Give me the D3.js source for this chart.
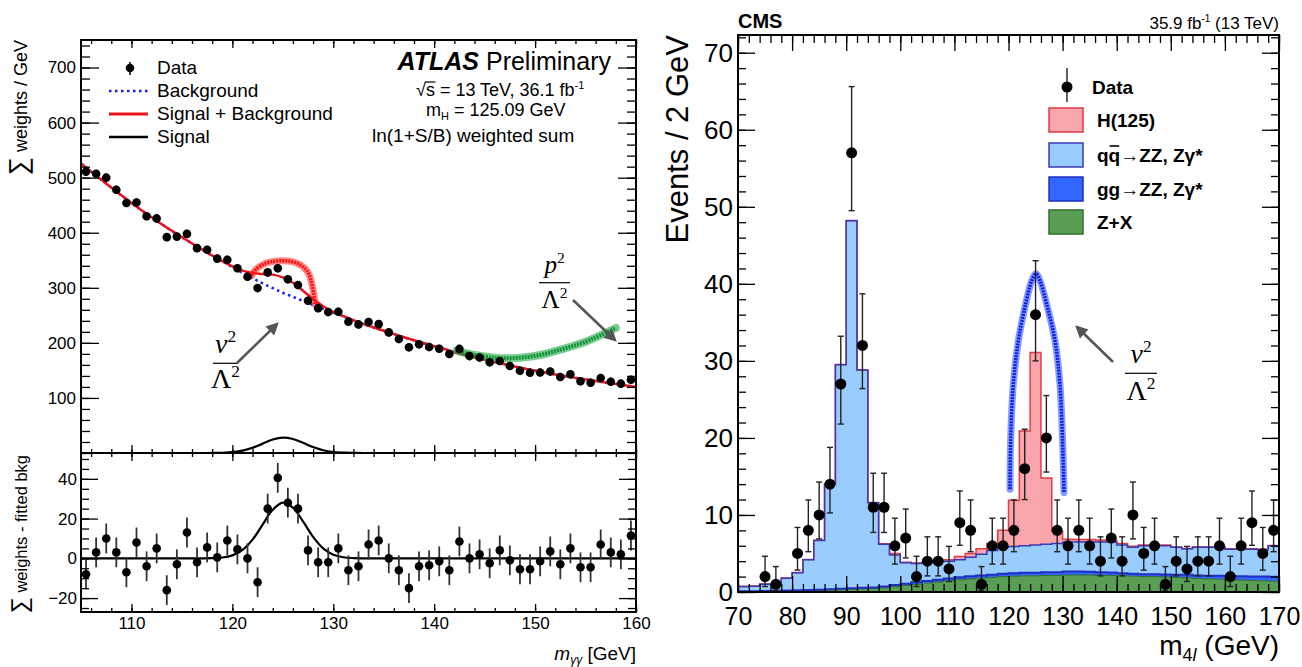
<!DOCTYPE html>
<html>
<head>
<meta charset="utf-8">
<script src="https://cdn.jsdelivr.net/npm/d3@7"></script>
<style>
body { margin: 0; background: #fff; }
svg text { font-family: "Liberation Sans", Arial, Helvetica, sans-serif; }
svg text.math { font-family: "Liberation Serif", "DejaVu Serif", serif; }
</style>
</head>
<body>
<svg id="chart" width="1302" height="667"></svg>
<script>
// ---------- ATLAS (left) ----------
const atlasBins = [105.5,106.5,107.5,108.5,109.5,110.5,111.5,112.5,113.5,114.5,115.5,116.5,117.5,118.5,119.5,120.5,121.5,122.5,123.5,124.5,125.5,126.5,127.5,128.5,129.5,130.5,131.5,132.5,133.5,134.5,135.5,136.5,137.5,138.5,139.5,140.5,141.5,142.5,143.5,144.5,145.5,146.5,147.5,148.5,149.5,150.5,151.5,152.5,153.5,154.5,155.5,156.5,157.5,158.5,159.5];
const atlasData = [511,507,500,478,454,455,430,426,392,393,398,372,369,353,351,335.5,320,299.5,328,335.5,315.5,305,276.5,263,256,256.5,238.5,233.5,238,234,219,207,192,197.4,192.5,189.3,179.8,189,176,173.5,164.7,167,158,149.5,145.8,146.2,147.9,138,142.9,130.4,127.5,136.2,129.5,125.9,132.9];
const atlasResid = [-8,3,10,3,-7,8,-4,5,-16,-3,13,-2,5.5,0.5,9,4.5,0,-12,25,40.5,28,25,4,-2,-2,5,-6,-4,7,9,0,-6,-15,-4,-3.5,-1.5,-6,8.5,0,2,-2.5,4,-1,-5.5,-5.5,-1.5,3.5,-3,5,-4.5,-4.5,7,3,2,11.5];
const atlasErr = 7.5;

const atlasCurveMass = [105,106,107,108,109,110,111,112,113,114,115,116,117,118,119,120,121,122,123,124,125,126,127,128,129,130,131,132,133,134,135,136,137,138,139,140,141,142,143,144,145,146,147,148,149,150,151,152,153,154,155,156,157,158,159,160];
const atlasBkg = [526,511,496.5,482,468,454,441,428,415.5,403.5,392,380.5,369.5,358.5,348,337.5,327,317.5,308,299.5,291,283.7,276.2,268.8,261.5,254.7,248,241,234,228,222,216,210.3,204.7,199.2,193.9,188.8,183,178.3,173.8,169.3,165,161,157,153.2,149.5,146,142.6,139.4,136.4,133.5,130.6,127.8,125.2,122.6,120];
const atlasSigMass = [115,116,117,118,119,120,121,122,123,124,125,126,127,128,129,130,131,132,133,134,135];
const atlasSig = [0,0,0.02,0.09,0.41,1.5,4.2,9.4,17,24.4,28,25.5,18.6,10.8,5.0,1.8,0.54,0.13,0.02,0,0];

const atlasV2Arc = [[121.9,322],[122.2,331],[122.9,341],[123.8,347],[124.8,349],[125.8,348],[126.6,343],[127.2,335],[127.6,324],[127.9,305],[128.1,285],[128.2,270]];
const atlasP2Band = [[142.2,186],[144,178],[146,173],[147.5,172],[149,174],[150.5,178],[152,185],[153.5,193],[155,202],[156.5,214],[158,227]];

const atlasXTicks = [110,120,130,140,150,160];
const atlasYTicks = [100,200,300,400,500,600,700];
const atlasResTicks = [-20,0,20,40];

// ---------- CMS (right) ----------
const cmsBins = [71,73,75,77,79,81,83,85,87,89,91,93,95,97,99,101,103,105,107,109,111,113,115,117,119,121,123,125,127,129,131,133,135,137,139,141,143,145,147,149,151,153,155,157,159,161,163,165,167,169];
const cmsData = [0,0,2,1,0,5,8,10,14,27,57,32,11,11,6,7,2,4,4,3,9,8,1,6,6,8,16,36,20,8,6,8,6,4,7,4,10,5,6,1,4,3,4,4,6,2,6,9,5,8];
const cmsZX = [0.05,0.05,0.08,0.1,0.12,0.15,0.18,0.2,0.25,0.3,0.35,0.4,0.45,0.55,0.7,0.85,1.0,1.15,1.3,1.45,1.6,1.7,1.8,1.9,2.0,2.05,2.1,2.1,2.15,2.15,2.2,2.2,2.2,2.15,2.15,2.1,2.05,2.0,2.0,1.95,1.9,1.85,1.75,1.7,1.65,1.6,1.55,1.5,1.45,1.4];
const cmsGG = [0.05,0.05,0.05,0.05,0.06,0.07,0.08,0.1,0.1,0.12,0.13,0.15,0.15,0.17,0.2,0.22,0.25,0.27,0.3,0.3,0.32,0.33,0.35,0.35,0.38,0.4,0.4,0.4,0.4,0.42,0.45,0.45,0.42,0.4,0.38,0.35,0.33,0.32,0.3,0.32,0.35,0.38,0.4,0.42,0.45,0.48,0.5,0.52,0.55,0.57];
const cmsQQ = [0.6,0.65,0.87,0.85,1.62,2.28,3.94,6.4,13.65,29.08,47.72,28.25,11.0,5.48,3.9,2.73,2.45,2.38,2.35,2.25,2.28,2.47,2.75,3.15,3.42,3.45,3.5,3.6,3.65,3.73,3.85,3.85,3.88,3.95,3.97,3.65,3.42,3.68,3.7,3.73,3.55,3.37,3.65,3.68,3.7,3.47,3.5,3.53,3.5,4.03];
const cmsH = [0.03,0.03,0.03,0.03,0.03,0.03,0.03,0.03,0.03,0.03,0.03,0.03,0.03,0.05,0.2,0.05,0.05,0.05,0.1,0.2,0.4,0.5,0.7,0.9,2.2,6.0,14.9,25.0,8.6,1.6,0.35,0.3,0.3,0.25,0.2,0.2,0.15,0.1,0.1,0.1,0.05,0.05,0.05,0.05,0.05,0.05,0.05,0.05,0.05,0.05];
// 68% Poisson intervals for the observed counts
const poissonLo = {1:0.17,2:0.71,3:1.37,4:2.09,5:2.84,6:3.62,7:4.42,8:5.23,9:6.06,10:6.89,11:7.73,14:10.26,16:12.0,20:15.57,27:21.8,32:26.4,36:30.0,57:49.5};
const poissonHi = {1:3.30,2:4.64,3:5.92,4:7.16,5:8.38,6:9.58,7:10.77,8:11.95,9:13.11,10:14.27,11:15.42,14:18.77,16:21.13,20:25.5,27:33.2,32:38.7,36:43.0,57:65.6};

const cmsV2Band = [[120.28,13.35],[120.4,19.6],[120.89,27.0],[121.82,32.6],[123.05,37.0],[124.29,40.4],[125.08,41.3],[125.82,40.4],[127.18,37.0],[128.6,32.6],[129.5,27.0],[130.0,19.6],[130.26,12.9]];

const cmsXTicks = [70,80,90,100,110,120,130,140,150,160,170];
const cmsYTicks = [0,10,20,30,40,50,60,70];

const cmsKeys = ['zx', 'gg', 'qq', 'h'];
const cmsColors = {
    h:  {fill: '#f8a5ab', stroke: '#e23a48', w: 1.5},
    qq: {fill: '#99ccff', stroke: '#3a3ab8', w: 1.5},
    gg: {fill: '#3366ff', stroke: '#1f2fc0', w: 2},
    zx: {fill: '#5a9e55', stroke: '#2f6e2c', w: 1}
};

const svg = d3.select('#chart');
svg.append('rect').attr('width', 1302).attr('height', 667).attr('fill', '#fff');

svg.append('defs').append('marker')
    .attr('id', 'arrow')
    .attr('viewBox', '0 0 10 10')
    .attr('refX', 8).attr('refY', 5)
    .attr('markerWidth', 6).attr('markerHeight', 5)
    .attr('orient', 'auto')
    .append('path')
    .attr('d', 'M0,0L10,5L0,10z')
    .attr('fill', '#555');

// helpers
function drawTicks(g, axis, scale, values, len, at) {
    g.append('g').attr('transform', at)
        .call(axis(scale).tickValues(values).tickSizeInner(-len).tickSizeOuter(0).tickFormat(''))
        .call(s => s.select('.domain').remove())
        .selectAll('line').attr('stroke', '#000').attr('stroke-width', 1.3);
}

function drawLabels(g, axis, scale, values, at, size, pad) {
    const a = g.append('g').attr('transform', at)
        .call(axis(scale).tickValues(values).tickSize(0).tickPadding(pad));
    a.select('.domain').remove();
    a.attr('font-size', size).attr('font-family', null);
    a.selectAll('text').attr('fill', '#000');
}

function fraction(g, cx, barY, width, letter, size, numOff, denOff) {
    const n = g.append('text').attr('class', 'math')
        .attr('x', cx).attr('y', barY - numOff)
        .attr('text-anchor', 'middle').attr('font-size', size);
    n.append('tspan').attr('font-style', 'italic').text(letter);
    n.append('tspan').attr('font-size', size * 0.62).attr('dy', -size * 0.4).text('2');
    g.append('line')
        .attr('x1', cx - width / 2).attr('x2', cx + width / 2)
        .attr('y1', barY).attr('y2', barY)
        .attr('stroke', '#000').attr('stroke-width', 1.2);
    const d = g.append('text').attr('class', 'math')
        .attr('x', cx).attr('y', barY + denOff)
        .attr('text-anchor', 'middle').attr('font-size', size);
    d.append('tspan').text('Λ');
    d.append('tspan').attr('font-size', size * 0.62).attr('dy', -size * 0.4).text('2');
}

function arrow(g, x1, y1, x2, y2) {
    g.append('line')
        .attr('x1', x1).attr('y1', y1).attr('x2', x2).attr('y2', y2)
        .attr('stroke', '#555').attr('stroke-width', 2.5)
        .attr('marker-end', 'url(#arrow)');
}

// ================= ATLAS panel =================
const atlasX = d3.scaleLinear().domain([105, 160]).range([81, 636]);
const atlasY = d3.scaleLinear().domain([0, 750]).range([453, 40]);
const atlasR = d3.scaleLinear().domain([-27, 53]).range([612, 453]);

const left = svg.append('g');
const sigMap = new Map(atlasSigMass.map((m, i) => [m, atlasSig[i]]));
const sigFull = atlasCurveMass.map(m => sigMap.get(m) || 0);

// background (blue dotted)
left.append('path')
    .datum(atlasCurveMass.map((m, i) => [m, atlasBkg[i]]))
    .attr('fill', 'none')
    .attr('stroke', '#1a1aff')
    .attr('stroke-width', 2.5)
    .attr('stroke-dasharray', '2.5 3.5')
    .attr('d', d3.line().x(d => atlasX(d[0])).y(d => atlasY(d[1])).curve(d3.curveCatmullRom));

// signal + background (red)
left.append('path')
    .datum(atlasCurveMass.map((m, i) => [m, atlasBkg[i] + sigFull[i]]))
    .attr('fill', 'none')
    .attr('stroke', '#e8141c')
    .attr('stroke-width', 2.5)
    .attr('d', d3.line().x(d => atlasX(d[0])).y(d => atlasY(d[1])).curve(d3.curveCatmullRom));

// signal (black) in the upper pad
left.append('path')
    .datum(atlasCurveMass.map((m, i) => [m, sigFull[i]]))
    .attr('fill', 'none')
    .attr('stroke', '#000')
    .attr('stroke-width', 2.2)
    .attr('d', d3.line().x(d => atlasX(d[0])).y(d => atlasY(d[1])).curve(d3.curveCatmullRom));

// v^2 arc and p^2 band
const bandLine = d3.line().x(d => atlasX(d[0])).y(d => atlasY(d[1])).curve(d3.curveCatmullRom);
left.append('path').datum(atlasV2Arc)
    .attr('fill', 'none').attr('stroke', '#ff2a2a').attr('stroke-width', 7)
    .attr('stroke-opacity', 0.55).attr('stroke-linecap', 'round').attr('d', bandLine);
left.append('path').datum(atlasV2Arc)
    .attr('fill', 'none').attr('stroke', '#ff1010').attr('stroke-width', 3.5)
    .attr('stroke-dasharray', '2 1').attr('d', bandLine);
left.append('path').datum(atlasP2Band)
    .attr('fill', 'none').attr('stroke', '#22a844').attr('stroke-width', 8)
    .attr('stroke-opacity', 0.6).attr('stroke-linecap', 'round').attr('d', bandLine);
left.append('path').datum(atlasP2Band)
    .attr('fill', 'none').attr('stroke', '#129236').attr('stroke-width', 4)
    .attr('stroke-dasharray', '2 1').attr('d', bandLine);

// upper data
left.append('g').selectAll('line')
    .data(atlasBins).enter().append('line')
    .attr('x1', d => atlasX(d)).attr('x2', d => atlasX(d))
    .attr('y1', (d, i) => atlasY(atlasData[i] - atlasErr))
    .attr('y2', (d, i) => atlasY(atlasData[i] + atlasErr))
    .attr('stroke', '#000').attr('stroke-width', 1.5);
left.append('g').selectAll('circle')
    .data(atlasBins).enter().append('circle')
    .attr('cx', d => atlasX(d))
    .attr('cy', (d, i) => atlasY(atlasData[i]))
    .attr('r', 4.3).attr('fill', '#000');

// lower pad: signal fit and residuals
left.append('path')
    .datum(atlasCurveMass.map((m, i) => [m, sigFull[i]]))
    .attr('fill', 'none')
    .attr('stroke', '#000')
    .attr('stroke-width', 2.2)
    .attr('d', d3.line().x(d => atlasX(d[0])).y(d => atlasR(d[1])).curve(d3.curveCatmullRom));
left.append('g').selectAll('line')
    .data(atlasBins).enter().append('line')
    .attr('x1', d => atlasX(d)).attr('x2', d => atlasX(d))
    .attr('y1', (d, i) => atlasR(atlasResid[i] - atlasErr))
    .attr('y2', (d, i) => atlasR(atlasResid[i] + atlasErr))
    .attr('stroke', '#333').attr('stroke-width', 1.8);
left.append('g').selectAll('circle')
    .data(atlasBins).enter().append('circle')
    .attr('cx', d => atlasX(d))
    .attr('cy', (d, i) => atlasR(atlasResid[i]))
    .attr('r', 4.3).attr('fill', '#000');

// ticks
const atlasMinorX = d3.range(106, 161, 2);
drawTicks(left, d3.axisTop, atlasX, atlasMinorX, 4, 'translate(0,40)');
drawTicks(left, d3.axisTop, atlasX, atlasXTicks, 8, 'translate(0,40)');
drawTicks(left, d3.axisBottom, atlasX, atlasMinorX, 4, 'translate(0,453)');
drawTicks(left, d3.axisBottom, atlasX, atlasXTicks, 8, 'translate(0,453)');
drawTicks(left, d3.axisTop, atlasX, atlasMinorX, 4, 'translate(0,453)');
drawTicks(left, d3.axisTop, atlasX, atlasXTicks, 8, 'translate(0,453)');
drawTicks(left, d3.axisBottom, atlasX, atlasMinorX, 4, 'translate(0,612)');
drawTicks(left, d3.axisBottom, atlasX, atlasXTicks, 8, 'translate(0,612)');
const atlasMinorY = d3.range(0, 750, 20);
drawTicks(left, d3.axisLeft, atlasY, atlasMinorY, 9, 'translate(81,0)');
drawTicks(left, d3.axisLeft, atlasY, atlasYTicks, 18, 'translate(81,0)');
drawTicks(left, d3.axisRight, atlasY, atlasMinorY, 9, 'translate(636,0)');
drawTicks(left, d3.axisRight, atlasY, atlasYTicks, 18, 'translate(636,0)');
const atlasMinorR = d3.range(-25, 53, 5);
drawTicks(left, d3.axisLeft, atlasR, atlasMinorR, 8, 'translate(81,0)');
drawTicks(left, d3.axisLeft, atlasR, atlasResTicks, 17, 'translate(81,0)');
drawTicks(left, d3.axisRight, atlasR, atlasMinorR, 8, 'translate(636,0)');
drawTicks(left, d3.axisRight, atlasR, atlasResTicks, 17, 'translate(636,0)');

drawLabels(left, d3.axisLeft, atlasY, atlasYTicks, 'translate(81,0)', 17, 5);
drawLabels(left, d3.axisLeft, atlasR, atlasResTicks, 'translate(81,0)', 17, 4);
drawLabels(left, d3.axisBottom, atlasX, atlasXTicks, 'translate(0,612)', 17, 5);

// frames
left.append('rect').attr('x', 81).attr('y', 40).attr('width', 555).attr('height', 572)
    .attr('fill', 'none').attr('stroke', '#000').attr('stroke-width', 2);
left.append('line').attr('x1', 81).attr('x2', 636).attr('y1', 453).attr('y2', 453)
    .attr('stroke', '#000').attr('stroke-width', 2);

// axis titles
const ly = left.append('text').attr('transform', 'translate(27,40) rotate(-90)')
    .attr('text-anchor', 'end').attr('font-size', 18);
ly.append('tspan').attr('font-size', 26).text('∑');
ly.append('tspan').text(' weights / GeV');
const lr = left.append('text').attr('transform', 'translate(27,455) rotate(-90)')
    .attr('text-anchor', 'end').attr('font-size', 16.5);
lr.append('tspan').attr('font-size', 23).text('∑');
lr.append('tspan').text(' weights - fitted bkg');
const lx = left.append('text').attr('x', 636).attr('y', 660)
    .attr('text-anchor', 'end').attr('font-size', 19);
lx.append('tspan').attr('font-style', 'italic').text('m');
lx.append('tspan').attr('font-style', 'italic').attr('font-size', 12).attr('dy', 4).text('γγ');
lx.append('tspan').attr('dy', -4).text(' [GeV]');

// legend
left.append('line').attr('x1', 130).attr('x2', 130).attr('y1', 62).attr('y2', 75)
    .attr('stroke', '#000').attr('stroke-width', 1.5);
left.append('circle').attr('cx', 130).attr('cy', 68).attr('r', 4.3).attr('fill', '#000');
left.append('line').attr('x1', 109).attr('x2', 148).attr('y1', 91).attr('y2', 91)
    .attr('stroke', '#1a1aff').attr('stroke-width', 2.5).attr('stroke-dasharray', '2.5 3.5');
left.append('line').attr('x1', 109).attr('x2', 148).attr('y1', 114).attr('y2', 114)
    .attr('stroke', '#e8141c').attr('stroke-width', 3);
left.append('line').attr('x1', 109).attr('x2', 148).attr('y1', 137).attr('y2', 137)
    .attr('stroke', '#000').attr('stroke-width', 2.5);
['Data', 'Background', 'Signal + Background', 'Signal'].forEach((t, i) => {
    left.append('text').attr('x', 157).attr('y', 74 + i * 23).attr('font-size', 19).text(t);
});

// ATLAS labels
const at = left.append('text').attr('x', 611).attr('y', 70).attr('text-anchor', 'end').attr('font-size', 25);
at.append('tspan').attr('font-weight', 'bold').attr('font-style', 'italic').text('ATLAS');
at.append('tspan').text(' Preliminary');
const rs = left.append('text').attr('x', 416).attr('y', 96).attr('font-size', 18);
rs.append('tspan').text('√s = 13 TeV, 36.1 fb');
rs.append('tspan').attr('font-size', 11).attr('dy', -7).text('-1');
const rsNode = rs.node();
const wRoot = rsNode.getSubStringLength(0, 1);
const wS = rsNode.getSubStringLength(0, 2);
left.append('line').attr('x1', 416 + wRoot - 1).attr('x2', 416 + wS + 0.5)
    .attr('y1', 82).attr('y2', 82).attr('stroke', '#000').attr('stroke-width', 1.2);
const mh = left.append('text').attr('x', 426).attr('y', 116).attr('font-size', 18);
mh.append('tspan').text('m');
mh.append('tspan').attr('font-size', 11).attr('dy', 4).text('H');
mh.append('tspan').attr('dy', -4).text(' = 125.09 GeV');
left.append('text').attr('x', 372).attr('y', 142).attr('font-size', 19).text('ln(1+S/B) weighted sum');

// annotations
fraction(left, 225.5, 363.3, 25, 'v', 28, 10, 25);
arrow(left, 237, 363, 277, 324);
fraction(left, 554.5, 282.7, 31, 'p', 25, 10, 25);
arrow(left, 573, 300, 615, 340);

// ================= CMS panel =================
const cmsX = d3.scaleLinear().domain([70, 170]).range([738, 1279]);
const cmsY = d3.scaleLinear().domain([0, 72.3]).range([592, 35]);
const right = svg.append('g');

const cmsRows = cmsBins.map((m, i) => ({m: m, zx: cmsZX[i], gg: cmsGG[i], qq: cmsQQ[i], h: cmsH[i]}));
const layers = d3.stack().keys(cmsKeys)(cmsRows);

const stepArea = d3.area().x(p => cmsX(p.x)).y0(p => cmsY(p.y0)).y1(p => cmsY(p.y1));
const stepLine = d3.line().x(p => cmsX(p.x)).y(p => cmsY(p.y1));
const layerPts = layers.map(layer => layer.flatMap((d, i) => [
    {x: cmsBins[i] - 1, y0: d[0], y1: d[1]},
    {x: cmsBins[i] + 1, y0: d[0], y1: d[1]}
]));
layers.forEach((layer, k) => {
    right.append('path').datum(layerPts[k])
        .attr('fill', cmsColors[layer.key].fill).attr('stroke', 'none')
        .attr('d', stepArea);
});
// outlines: Higgs first so the qq outline stays on top where H is tiny
[3, 0, 1, 2].forEach(k => {
    const key = layers[k].key;
    right.append('path').datum(layerPts[k])
        .attr('fill', 'none')
        .attr('stroke', cmsColors[key].stroke)
        .attr('stroke-width', cmsColors[key].w)
        .attr('d', stepLine);
});

// ticks (drawn over the fills)
const cmsMinorX = d3.range(70, 171, 2);
const cmsMinorY = d3.range(0, 73, 2);
drawTicks(right, d3.axisBottom, cmsX, cmsMinorX, 8, 'translate(0,592)');
drawTicks(right, d3.axisBottom, cmsX, cmsXTicks, 16, 'translate(0,592)');
drawTicks(right, d3.axisTop, cmsX, cmsMinorX, 8, 'translate(0,35)');
drawTicks(right, d3.axisTop, cmsX, cmsXTicks, 16, 'translate(0,35)');
drawTicks(right, d3.axisLeft, cmsY, cmsMinorY, 8, 'translate(738,0)');
drawTicks(right, d3.axisLeft, cmsY, cmsYTicks, 17, 'translate(738,0)');
drawTicks(right, d3.axisRight, cmsY, cmsMinorY, 8, 'translate(1279,0)');
drawTicks(right, d3.axisRight, cmsY, cmsYTicks, 17, 'translate(1279,0)');

// v^2 band
const cmsBand = d3.line().x(d => cmsX(d[0])).y(d => cmsY(d[1])).curve(d3.curveCatmullRom);
right.append('path').datum(cmsV2Band)
    .attr('fill', 'none').attr('stroke', '#2a48ff').attr('stroke-width', 7)
    .attr('stroke-opacity', 0.55).attr('stroke-linecap', 'round').attr('d', cmsBand);
right.append('path').datum(cmsV2Band)
    .attr('fill', 'none').attr('stroke', '#0a22e8').attr('stroke-width', 3.5)
    .attr('stroke-dasharray', '2 1').attr('d', cmsBand);

// data
const cmsPts = cmsBins.map((m, i) => ({m: m, n: cmsData[i]})).filter(d => d.n > 0);
const eb = right.append('g').attr('stroke', '#222').attr('stroke-width', 1.4);
cmsPts.forEach(d => {
    const x = cmsX(d.m);
    const y1 = cmsY(poissonLo[d.n]);
    const y2 = cmsY(poissonHi[d.n]);
    eb.append('line').attr('x1', x).attr('x2', x).attr('y1', y1).attr('y2', y2);
    eb.append('line').attr('x1', x - 3).attr('x2', x + 3).attr('y1', y1).attr('y2', y1);
    eb.append('line').attr('x1', x - 3).attr('x2', x + 3).attr('y1', y2).attr('y2', y2);
});
right.append('g').selectAll('circle')
    .data(cmsPts).enter().append('circle')
    .attr('cx', d => cmsX(d.m)).attr('cy', d => cmsY(d.n))
    .attr('r', 5.5).attr('fill', '#000');

drawLabels(right, d3.axisLeft, cmsY, cmsYTicks, 'translate(738,0)', 26, 5);
drawLabels(right, d3.axisBottom, cmsX, cmsXTicks, 'translate(0,592)', 25, 15);

right.append('rect').attr('x', 738).attr('y', 35).attr('width', 541).attr('height', 557)
    .attr('fill', 'none').attr('stroke', '#000').attr('stroke-width', 2);

// titles
right.append('text').attr('x', 738).attr('y', 28).attr('font-size', 20).attr('font-weight', 'bold').text('CMS');
const lumi = right.append('text').attr('x', 1279).attr('y', 29).attr('text-anchor', 'end').attr('font-size', 17);
lumi.append('tspan').text('35.9 fb');
lumi.append('tspan').attr('font-size', 10).attr('dy', -7).text('-1');
lumi.append('tspan').attr('dy', 7).text(' (13 TeV)');
right.append('text').attr('transform', 'translate(688,35) rotate(-90)')
    .attr('text-anchor', 'end').attr('font-size', 31).text('Events / 2 GeV');
const rx = right.append('text').attr('x', 1279).attr('y', 655).attr('text-anchor', 'end').attr('font-size', 28);
rx.append('tspan').text('m');
rx.append('tspan').attr('font-size', 18).attr('dy', 6).text('4');
rx.append('tspan').attr('font-size', 18).attr('font-style', 'italic').text('l');
rx.append('tspan').attr('dy', -6).text(' (GeV)');

// legend
right.append('line').attr('x1', 1067).attr('x2', 1067).attr('y1', 68).attr('y2', 102)
    .attr('stroke', '#222').attr('stroke-width', 1.4);
right.append('circle').attr('cx', 1067).attr('cy', 87).attr('r', 5.5).attr('fill', '#000');
right.append('text').attr('x', 1092).attr('y', 94).attr('font-size', 19).attr('font-weight', 'bold').text('Data');
const legendKeys = ['h', 'qq', 'gg', 'zx'];
const legendY = [108, 143, 177, 210];
legendKeys.forEach((k, i) => {
    right.append('rect').attr('x', 1049).attr('y', legendY[i]).attr('width', 34).attr('height', 24)
        .attr('fill', cmsColors[k].fill).attr('stroke', cmsColors[k].stroke).attr('stroke-width', 1.5);
});
const lt = (i) => right.append('text').attr('x', 1097).attr('y', legendY[i] + 19)
    .attr('font-size', 19).attr('font-weight', 'bold');
lt(0).text('H(125)');
const q = lt(1);
q.append('tspan').text('qq');
q.append('tspan').text('→ZZ, Zγ*');
const qNode = q.node();
const wq1 = qNode.getSubStringLength(0, 1);
const wq2 = qNode.getSubStringLength(0, 2);
right.append('line').attr('x1', 1097 + wq1 + 1).attr('x2', 1097 + wq2 - 1)
    .attr('y1', legendY[1] + 3).attr('y2', legendY[1] + 3)
    .attr('stroke', '#000').attr('stroke-width', 1.6);
lt(2).text('gg→ZZ, Zγ*');
lt(3).text('Z+X');

// annotation
fraction(right, 1141, 373.3, 32, 'v', 28, 10, 27);
arrow(right, 1113, 362, 1077, 327);
</script>
</body>
</html>
